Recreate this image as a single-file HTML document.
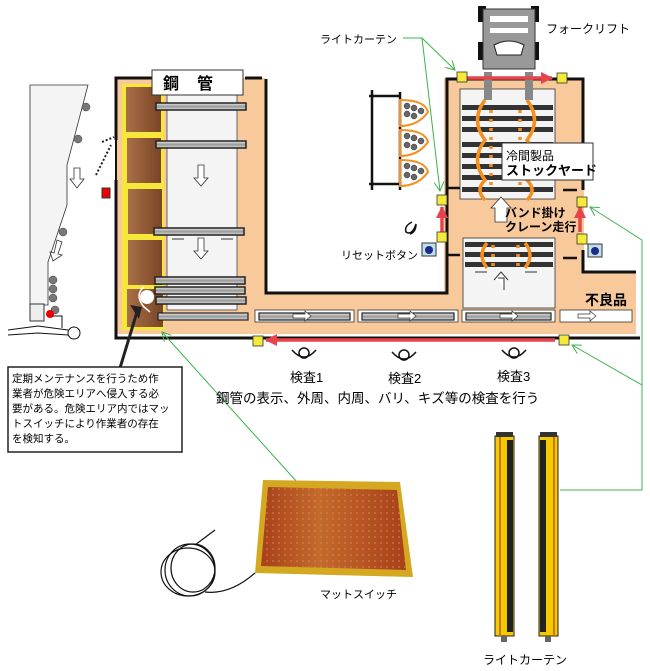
<!DOCTYPE html>
<html><head><meta charset="utf-8"><style>
body{margin:0;background:#fff;}
svg{display:block;font-family:"Liberation Sans","Noto Sans CJK JP",sans-serif;}
</style></head><body>
<svg width="650" height="671" viewBox="0 0 650 671" xmlns="http://www.w3.org/2000/svg">
<defs>
<linearGradient id="br" x1="0" x2="1"><stop offset="0" stop-color="#a87048"/><stop offset="1" stop-color="#7a4526"/></linearGradient>
<linearGradient id="rl" x1="0" y1="0" x2="0" y2="1"><stop offset="0" stop-color="#eee"/><stop offset="0.5" stop-color="#999"/><stop offset="1" stop-color="#ddd"/></linearGradient>
<linearGradient id="mat" x1="0" x2="1"><stop offset="0" stop-color="#a8401a"/><stop offset="0.4" stop-color="#c46a2c"/><stop offset="1" stop-color="#a8401a"/></linearGradient>
<pattern id="dots" width="6" height="6" patternUnits="userSpaceOnUse"><circle cx="3" cy="3" r="0.8" fill="#d88a55"/></pattern>
<marker id="ra" markerUnits="userSpaceOnUse" markerWidth="12" markerHeight="12" refX="11" refY="6" orient="auto"><path d="M0,0L12,6L0,12z" fill="#e8424a"/></marker>
<marker id="ga" markerUnits="userSpaceOnUse" markerWidth="10" markerHeight="10" refX="9" refY="5" orient="auto"><path d="M0,0L9,5L0,10" fill="none" stroke="#3cb34a" stroke-width="1"/></marker>
</defs>

<!-- left machine -->
<polygon points="30,85 88,85 67,165 67,205 48,262 48,305 30,305" fill="#f4f4f4" stroke="#333" stroke-width="0.8"/>
<g fill="#777" stroke="#444" stroke-width="0.5">
<circle cx="86" cy="107" r="4"/><circle cx="78" cy="139" r="4"/><circle cx="63" cy="232" r="4"/>
<circle cx="53" cy="280" r="4"/><circle cx="53" cy="289" r="4"/><circle cx="53" cy="298" r="4"/><circle cx="55" cy="310" r="4"/>
</g>
<path d="M74,168h6v11h4l-7,9l-7,-9h4z" fill="#fff" stroke="#333" stroke-width="0.8"/>
<path d="M57,240l5,2l-4,12l4,1l-9,6l-3,-9l4,1z" fill="#fff" stroke="#333" stroke-width="0.8"/>
<rect x="30" y="304" width="14" height="17" fill="#eee" stroke="#333"/>
<circle cx="50" cy="314" r="4" fill="#e00"/>
<path d="M52,316h10v12M8,330l30,-4l30,4M8,335l30,-2l30,2" fill="none" stroke="#111" stroke-width="1"/>
<circle cx="74" cy="333" r="6" fill="#fff" stroke="#111"/>
<path d="M102,142l12,-5M96,175l15,-30" stroke="#222" stroke-width="2" stroke-dasharray="2,2"/>
<rect x="102" y="188" width="8" height="10" fill="#e00" stroke="#333"/>

<!-- peach floor -->
<path d="M117,78H265V293H444V78H584V272H636V334H117Z" fill="#f8c99a"/>
<g stroke="#111" stroke-width="3" fill="none">
<path d="M116,180V338H640"/>
<path d="M116,140V78H152"/><path d="M245,78H262"/>
<path d="M266,79V293H447V79H583V190"/><path d="M583,250V272H636"/>
<path d="M116,140v40" stroke-width="2"/>
</g>
<rect x="122" y="84" width="42" height="246" fill="#f6e83a"/>
<g fill="url(#br)">
<rect x="126" y="87" width="35" height="45"/><rect x="127" y="138" width="34" height="45"/><rect x="128" y="189" width="34" height="45"/><rect x="128" y="240" width="34" height="45"/><rect x="127" y="289" width="36" height="38"/>
</g>
<circle cx="147" cy="297" r="7" fill="#fff"/><path d="M144,287q-10,8,0,20l6,5" stroke="#fff" stroke-width="1.5" fill="none"/>
<rect x="167" y="95" width="70" height="215" fill="#f4f4f4" stroke="#444" stroke-width="0.8"/>
<path d="M198,165h6v13h4l-7,8l-7,-8h4zM198,238h6v13h4l-7,8l-7,-8h4z" fill="#fff" stroke="#333" stroke-width="0.8"/>
<path d="M172,239h12M221,239h12" stroke="#333"/>
<g fill="url(#rl)" stroke="#222" stroke-width="1.5">
<rect x="156" y="103" width="90" height="7"/><rect x="156" y="141" width="90" height="7"/><rect x="154" y="228" width="90" height="7"/>
<rect x="155" y="277" width="90" height="7"/><rect x="155" y="287" width="90" height="7"/><rect x="156" y="297" width="90" height="7"/>
</g>
<rect x="152" y="70" width="91" height="25" fill="#fff" stroke="#333"/>
<text x="197" y="89" font-size="16" text-anchor="middle" font-weight="bold" letter-spacing="18">鋼管</text>

<g fill="#fff" stroke="#333" stroke-width="0.8">
<rect x="255" y="310" width="99" height="12"/><rect x="358" y="310" width="100" height="12"/><rect x="462" y="310" width="93" height="12"/><rect x="560" y="310" width="72" height="12"/>
</g>
<g fill="url(#rl)" stroke="#222" stroke-width="1.2">
<rect x="158" y="313" width="90" height="7"/><rect x="259" y="313" width="91" height="7"/><rect x="362" y="313" width="92" height="7"/><rect x="466" y="313" width="85" height="7"/>
</g>
<g fill="#fff" stroke="#333" stroke-width="0.7">
<path d="M293,314h12v-3l6,5l-6,5v-3h-12z"/><path d="M398,314h12v-3l6,5l-6,5v-3h-12z"/><path d="M500,314h12v-3l6,5l-6,5v-3h-12z"/><path d="M578,314h12v-3l6,5l-6,5v-3h-12z"/>
</g>
<text x="585" y="305" font-size="14" font-weight="bold">不良品</text>

<rect x="460" y="89" width="95" height="110" fill="#f4f4f4" stroke="#333" stroke-width="0.8"/>
<g fill="#333">
<rect x="462" y="105" width="91" height="5"/><rect x="462" y="116" width="91" height="5"/><rect x="462" y="127" width="91" height="5"/>
<rect x="462" y="142" width="91" height="5"/><rect x="462" y="153" width="91" height="5"/><rect x="462" y="164" width="91" height="5"/><rect x="462" y="175" width="91" height="5"/><rect x="462" y="187" width="91" height="5"/>
</g>
<rect x="463" y="238" width="92" height="70" fill="#f4f4f4" stroke="#333" stroke-width="0.8"/>
<g fill="#333"><rect x="465" y="242" width="88" height="5"/><rect x="465" y="252" width="88" height="5"/><rect x="465" y="262" width="88" height="5"/></g>
<path d="M498,278h6v12M494,280l7,-8l7,8" fill="#fff" stroke="#333"/>
<path d="M475,272h12M525,272h12" stroke="#333"/>
<path d="M446,188h14M448,255h12M563,190h14M563,258h14" stroke="#111" stroke-width="2.5"/>
<g fill="none" stroke="#f39020" stroke-width="3.5">
<path d="M485,100q-15,20,0,40q-15,20,0,40q-10,10,0,20"/><path d="M527,100q15,20,0,40q15,20,0,40q10,10,0,20"/>
<path d="M487,243q-10,12,0,25M525,243q10,12,0,25"/>
</g>
<g stroke="#f39020" stroke-width="3.5" stroke-dasharray="3,6"><path d="M491,110v80M520,110v80M493,245v22M518,245v22"/></g>
<path d="M495,222v-14h-4l10,-11l10,11h-4v14z" fill="#fff" stroke="#333" stroke-width="0.8"/>
<rect x="502" y="143" width="91" height="37" fill="#fff" stroke="#333"/>
<text x="506" y="160" font-size="12">冷間製品</text>
<text x="506" y="175" font-size="13" font-weight="bold">ストックヤード</text>
<text x="505" y="217" font-size="12" font-weight="bold">バンド掛け</text>
<text x="505" y="231" font-size="12" font-weight="bold">クレーン走行</text>

<rect x="478" y="6" width="8" height="16" fill="#111"/><rect x="531" y="6" width="8" height="16" fill="#111"/>
<rect x="478" y="42" width="8" height="18" fill="#111"/><rect x="531" y="42" width="8" height="18" fill="#111"/>
<rect x="483" y="9" width="52" height="60" fill="#999" stroke="#333"/>
<rect x="490" y="16" width="38" height="6" fill="#fff"/><rect x="490" y="28" width="38" height="5" fill="#fff"/>
<path d="M494,45q15,-8,30,0l-3,10h-24z" fill="#fff" stroke="#222"/>
<rect x="484" y="72" width="8" height="28" fill="#888"/><rect x="525" y="72" width="8" height="28" fill="#888"/>
<text x="546" y="33" font-size="12">フォークリフト</text>

<path d="M372,90v100M369,96h30M369,184h30M400,92v98" stroke="#111" stroke-width="2.5" fill="none"/>
<g fill="none" stroke="#f39020" stroke-width="2"><path d="M400,100q25,0,28,12q-10,14,-28,14z"/><path d="M400,130q25,0,28,12q-10,14,-28,14z"/><path d="M400,160q25,0,28,12q-10,14,-28,14z"/></g>
<g fill="#666" stroke="#333" stroke-width="0.5">
<circle cx="407" cy="106" r="3"/><circle cx="414" cy="108" r="3"/><circle cx="407" cy="114" r="3"/><circle cx="414" cy="116" r="3"/><circle cx="421" cy="111" r="3"/>
<circle cx="407" cy="136" r="3"/><circle cx="414" cy="138" r="3"/><circle cx="407" cy="145" r="3"/><circle cx="414" cy="147" r="3"/><circle cx="421" cy="141" r="3"/>
<circle cx="407" cy="166" r="3"/><circle cx="414" cy="168" r="3"/><circle cx="407" cy="175" r="3"/><circle cx="414" cy="177" r="3"/><circle cx="421" cy="171" r="3"/>
</g>
<path d="M412,222q-8,4,-6,10q6,4,10,-8q0,8,-6,10" fill="none" stroke="#111" stroke-width="1.5"/>
<rect x="422" y="243" width="14" height="13" fill="#bfe0ee" stroke="#333"/><circle cx="429" cy="250" r="4" fill="#1d2a8a"/>
<rect x="588" y="244" width="14" height="13" fill="#bfe0ee" stroke="#333"/><circle cx="595" cy="251" r="4" fill="#1d2a8a"/>
<text x="341" y="259" font-size="11">リセットボタン</text>

<g stroke="#e8424a" stroke-width="3.5">
<line x1="462" y1="78" x2="552" y2="78" marker-end="url(#ra)"/>
<line x1="442" y1="232" x2="442" y2="207" marker-end="url(#ra)"/>
<line x1="580" y1="232" x2="580" y2="207" marker-end="url(#ra)"/>
<line x1="555" y1="340" x2="266" y2="340" marker-end="url(#ra)"/>
</g>
<g fill="#f4ea3a" stroke="#333" stroke-width="0.8">
<rect x="457" y="72" width="10" height="10"/><rect x="557" y="73" width="10" height="10"/>
<rect x="437" y="195" width="10" height="10"/><rect x="577" y="197" width="10" height="10"/>
<rect x="437" y="232" width="10" height="10"/><rect x="577" y="234" width="10" height="10"/>
<rect x="253" y="336" width="10" height="10"/><rect x="559" y="335" width="10" height="10"/>
</g>

<g stroke="#3cb34a" stroke-width="1" fill="none">
<path d="M403,38H422L455,70" marker-end="url(#ga)"/>
<path d="M422,38L440,191" marker-end="url(#ga)"/>
<path d="M642,240L590,207" marker-end="url(#ga)"/>
<path d="M642,240V490H560"/>
<path d="M642,385L572,345" marker-end="url(#ga)"/>
<path d="M297,482L162,332" marker-end="url(#ga)"/>
</g>
<text x="320" y="43" font-size="11">ライトカーテン</text>

<path d="M137,312L120,368" stroke="#222" stroke-width="3"/><path d="M130,305l12,2l-3,12z" fill="#222"/>

<g fill="none" stroke="#111" stroke-width="1.5">
<path d="M292,350q12,14,24,0"/><circle cx="304" cy="353" r="5"/>
<path d="M392,352q12,14,24,0"/><circle cx="404" cy="355" r="5"/>
<path d="M502,350q12,14,24,0"/><circle cx="514" cy="353" r="5"/>
</g>
<text x="290" y="382" font-size="13">検査1</text><text x="388" y="383" font-size="13">検査2</text><text x="497" y="381" font-size="13">検査3</text>
<text x="216" y="403" font-size="13.5">鋼管の表示、外周、内周、バリ、キズ等の検査を行う</text>

<rect x="8" y="367" width="174" height="85" fill="#fff" stroke="#222" stroke-width="1.5"/>
<g font-size="10.5"><text x="12" y="382">定期メンテナンスを行うため作</text><text x="12" y="397">業者が危険エリアへ侵入する必</text><text x="12" y="412">要がある。危険エリア内ではマッ</text><text x="12" y="427">トスイッチにより作業者の存在</text><text x="12" y="442">を検知する。</text></g>

<polygon points="263,480 400,482 413,577 255,573" fill="#d4a820"/>
<polygon points="268,487 397,490 406,570 261,566" fill="url(#mat)"/>
<polygon points="268,487 397,490 406,570 261,566" fill="url(#dots)"/>
<g fill="none" stroke="#111" stroke-width="1.2">
<ellipse cx="190" cy="570" rx="25" ry="26"/><ellipse cx="193" cy="568" rx="22" ry="24"/><ellipse cx="188" cy="572" rx="27" ry="24"/>
<path d="M205,592Q230,595,255,573M195,545L215,530"/>
</g>
<text x="320" y="598" font-size="11">マットスイッチ</text>

<g>
<rect x="495" y="436" width="19" height="200" fill="#f7c800" stroke="#222"/><rect x="507" y="440" width="6" height="192" fill="#222"/><rect x="499" y="436" width="2" height="200" fill="#c07a00"/>
<rect x="539" y="436" width="19" height="200" fill="#f7c800" stroke="#222"/><rect x="540" y="440" width="6" height="192" fill="#222"/><rect x="553" y="436" width="2" height="200" fill="#c07a00"/>
<rect x="496" y="432" width="17" height="5" fill="#333"/><rect x="540" y="432" width="17" height="5" fill="#333"/>
<rect x="501" y="636" width="6" height="6" fill="#666"/><rect x="545" y="636" width="6" height="6" fill="#666"/>
</g>
<text x="483" y="664" font-size="12">ライトカーテン</text>
</svg>
</body></html>
